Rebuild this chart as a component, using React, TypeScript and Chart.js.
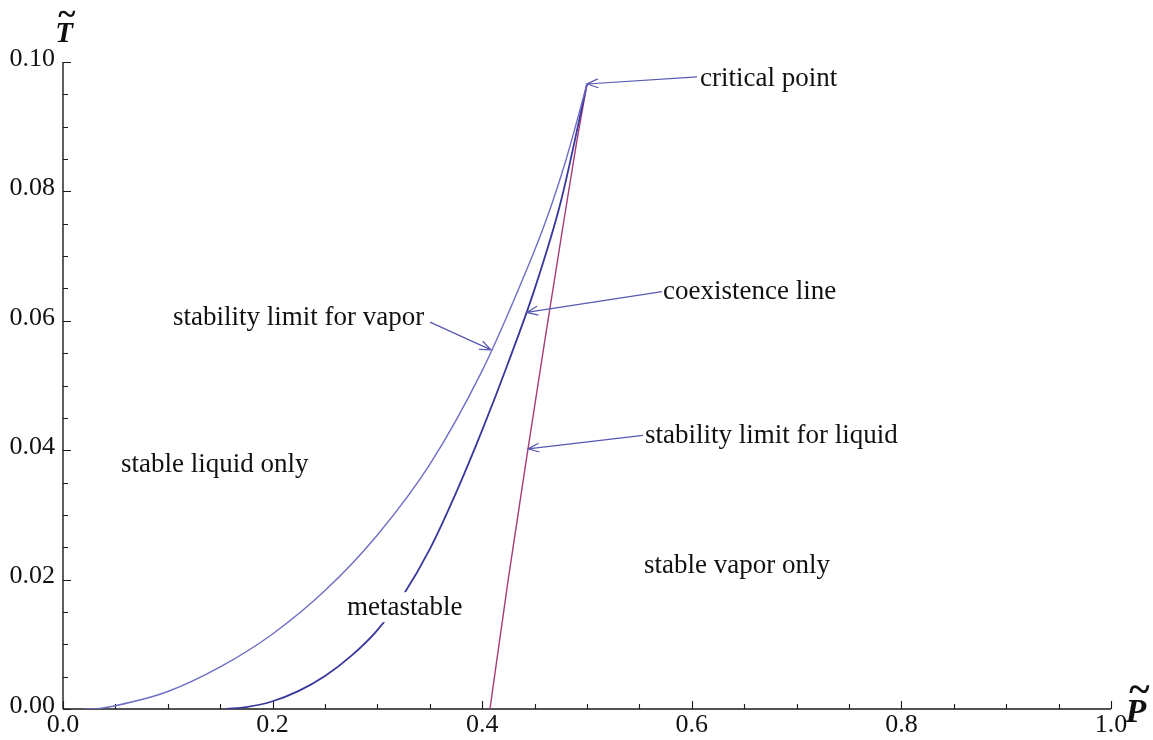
import { useEffect, useRef } from 'react';
import { Chart, registerables } from 'chart.js';

Chart.register(...registerables);

// Reduced pressure (P̃) and temperature (T̃) along each phase boundary
const vaporLimitP = [0.02, 0.035, 0.05, 0.10, 0.15, 0.20, 0.25, 0.30, 0.35, 0.40, 0.43, 0.46, 0.48, 0.50];
const vaporLimitT = [0.0, 0.0001, 0.0005, 0.0027, 0.0065, 0.0116, 0.0183, 0.0269, 0.0378, 0.0523, 0.0631, 0.0751, 0.0849, 0.0966];

const coexistP = [0.156, 0.175, 0.2, 0.225, 0.25, 0.275, 0.3, 0.325, 0.35, 0.375, 0.4, 0.425, 0.45, 0.475, 0.5];
const coexistT = [0.0, 0.0003, 0.0012, 0.0028, 0.0051, 0.0082, 0.0122, 0.0177, 0.0247, 0.0334, 0.0431, 0.0536, 0.0649, 0.0784, 0.0966];

const liquidLimitP = [0.4074, 0.425, 0.4437, 0.46, 0.475, 0.49, 0.5];
const liquidLimitT = [0.0, 0.0202, 0.0402, 0.0572, 0.0725, 0.0875, 0.0966];

const criticalPoint = [0.5, 0.0966];

const pTickLabels = ['0.0', '0.2', '0.4', '0.6', '0.8', '1.0'];
const tTickLabels = ['0.00', '0.02', '0.04', '0.06', '0.08', '0.10'];

// Text placed inside the diagram, in data coordinates (P̃, T̃); "at" is the start of the text baseline
const regionNotes = [
  { text: 'stable liquid only', at: [0.0553, 0.0366], boxed: false },
  { text: 'stable vapor only', at: [0.5544, 0.021], boxed: false },
  { text: 'metastable', at: [0.271, 0.0145], boxed: true },
];

const arrowNotes = [
  { text: 'critical point', at: [0.6078, 0.0963], tail: [0.605, 0.0977], tip: criticalPoint },
  { text: 'coexistence line', at: [0.5725, 0.0634], tail: [0.5716, 0.0645], tip: [0.4425, 0.0613] },
  { text: 'stability limit for vapor', at: [0.105, 0.0594], tail: [0.3502, 0.0598], tip: [0.4084, 0.0555] },
  { text: 'stability limit for liquid', at: [0.5553, 0.0411], tail: [0.5534, 0.0423], tip: [0.4437, 0.0402] },
];

const SERIF = '"Liberation Serif", "Times New Roman", serif';
const INK = '#111';
const ARROW = 'rgb(88,88,178)';

const toPoints = (ps: number[], ts: number[]) => ps.map((p, i) => ({ x: p, y: ts[i] }));

// Axes crossing at the origin, with tick marks pointing into the plot
const axesPlugin = {
  id: 'inwardAxes',
  beforeDatasetsDraw(chart: any) {
    const { ctx } = chart;
    const xs = chart.scales.x;
    const ys = chart.scales.y;
    const x0 = xs.getPixelForValue(0);
    const y0 = ys.getPixelForValue(0);
    ctx.save();
    ctx.strokeStyle = '#1a1a1a';
    ctx.lineWidth = 1.4;
    ctx.beginPath();
    ctx.moveTo(x0, y0);
    ctx.lineTo(xs.getPixelForValue(1), y0);
    ctx.moveTo(x0, y0);
    ctx.lineTo(x0, ys.getPixelForValue(0.1));
    ctx.stroke();
    ctx.lineWidth = 1.1;
    ctx.beginPath();
    xs.ticks.forEach((t: any, i: number) => {
      const px = Math.round(xs.getPixelForValue(t.value)) + 0.5;
      const len = i % 4 === 0 ? 8 : 5;
      ctx.moveTo(px, y0);
      ctx.lineTo(px, y0 - len);
    });
    ys.ticks.forEach((t: any, i: number) => {
      const py = Math.round(ys.getPixelForValue(t.value)) + 0.5;
      const len = i % 4 === 0 ? 8 : 5;
      ctx.moveTo(x0, py);
      ctx.lineTo(x0 + len, py);
    });
    ctx.stroke();
    ctx.restore();
  },
};

const drawArrow = (ctx: CanvasRenderingContext2D, x1: number, y1: number, x2: number, y2: number) => {
  const ang = Math.atan2(y2 - y1, x2 - x1);
  const head = 12;
  const spread = 0.38;
  ctx.beginPath();
  ctx.moveTo(x1, y1);
  ctx.lineTo(x2, y2);
  ctx.moveTo(x2 - head * Math.cos(ang - spread), y2 - head * Math.sin(ang - spread));
  ctx.lineTo(x2, y2);
  ctx.lineTo(x2 - head * Math.cos(ang + spread), y2 - head * Math.sin(ang + spread));
  ctx.stroke();
};

// A letter with a tilde accent above it
const drawTildeLetter = (ctx: CanvasRenderingContext2D, letter: string, cx: number, baseline: number, size: number) => {
  ctx.font = `bold italic ${size}px ${SERIF}`;
  ctx.textAlign = 'center';
  ctx.textBaseline = 'alphabetic';
  ctx.fillText(letter, cx, baseline);
  ctx.font = `bold ${Math.round(size * 1.15)}px ${SERIF}`;
  ctx.textBaseline = 'middle';
  ctx.fillText('~', cx + size * 0.1, baseline - size * 0.88);
};

const notesPlugin = {
  id: 'phaseNotes',
  afterDatasetsDraw(chart: any) {
    const { ctx } = chart;
    const xs = chart.scales.x;
    const ys = chart.scales.y;
    const px = (v: number) => xs.getPixelForValue(v);
    const py = (v: number) => ys.getPixelForValue(v);
    ctx.save();
    ctx.font = `27px ${SERIF}`;
    ctx.textBaseline = 'alphabetic';
    ctx.textAlign = 'left';

    regionNotes.forEach((n) => {
      const x = px(n.at[0]);
      const y = py(n.at[1]);
      if (n.boxed) {
        const w = ctx.measureText(n.text).width;
        ctx.fillStyle = '#fff';
        ctx.fillRect(x - 5, y - 23, w + 10, 30);
      }
      ctx.fillStyle = INK;
      ctx.fillText(n.text, x, y);
    });

    ctx.strokeStyle = ARROW;
    ctx.lineWidth = 1.2;
    arrowNotes.forEach((n) => {
      drawArrow(ctx, px(n.tail[0]), py(n.tail[1]), px(n.tip[0]), py(n.tip[1]));
      ctx.fillStyle = INK;
      ctx.fillText(n.text, px(n.at[0]), py(n.at[1]));
    });

    // axis titles: T̃ above the vertical axis, P̃ past the end of the horizontal axis
    ctx.fillStyle = INK;
    drawTildeLetter(ctx, 'T', px(0) + 1, py(0.1) - 20, 29);
    drawTildeLetter(ctx, 'P', px(1) + 25, py(0) + 13, 34);
    ctx.restore();
  },
};

export default function App() {
  const ref = useRef<HTMLCanvasElement>(null);

  useEffect(() => {
    const canvas = ref.current;
    if (!canvas) return;
    const tickFont = { family: SERIF, size: 26 };
    const curve = (label: string, ps: number[], ts: number[], color: string, width: number) => ({
      label,
      data: toPoints(ps, ts),
      showLine: true,
      pointRadius: 0,
      borderColor: color,
      borderWidth: width,
      cubicInterpolationMode: 'monotone',
    });
    const chart = new Chart(canvas, {
      type: 'scatter',
      data: {
        datasets: [
          curve('stability limit for vapor', vaporLimitP, vaporLimitT, 'rgb(110,110,196)', 1.4),
          curve('coexistence line', coexistP, coexistT, 'rgb(56,56,156)', 1.8),
          curve('stability limit for liquid', liquidLimitP, liquidLimitT, 'rgb(165,60,120)', 1.4),
        ],
      },
      options: {
        responsive: false,
        animation: false,
        devicePixelRatio: 1,
        layout: { padding: { left: 0, top: 62, right: 42, bottom: 0 } },
        plugins: { legend: { display: false }, tooltip: { enabled: false } },
        scales: {
          x: {
            type: 'linear',
            min: 0,
            max: 1,
            border: { display: false },
            grid: { display: false, drawTicks: false },
            ticks: {
              stepSize: 0.05,
              maxTicksLimit: 100,
              autoSkip: false,
              maxRotation: 0,
              padding: 1,
              font: tickFont,
              color: INK,
              callback: (_v: any, i: number) => (i % 4 === 0 ? pTickLabels[i / 4] : ''),
            },
            afterFit: (s: any) => {
              s.height = 31;
            },
          },
          y: {
            type: 'linear',
            min: 0,
            max: 0.1,
            border: { display: false },
            grid: { display: false, drawTicks: false },
            ticks: {
              stepSize: 0.005,
              maxTicksLimit: 100,
              autoSkip: false,
              padding: 8,
              labelOffset: -3,
              font: tickFont,
              color: INK,
              callback: (_v: any, i: number) => (i % 4 === 0 ? tTickLabels[i / 4] : ''),
            },
            afterFit: (s: any) => {
              s.width = 63;
            },
          },
        },
      },
      plugins: [axesPlugin, notesPlugin],
    } as any);
    return () => chart.destroy();
  }, []);

  return (
    <div style={{ position: 'absolute', left: 0, top: 0, width: 1153, height: 740, background: '#fff' }}>
      <canvas ref={ref} width={1153} height={740} style={{ display: 'block' }} />
    </div>
  );
}
